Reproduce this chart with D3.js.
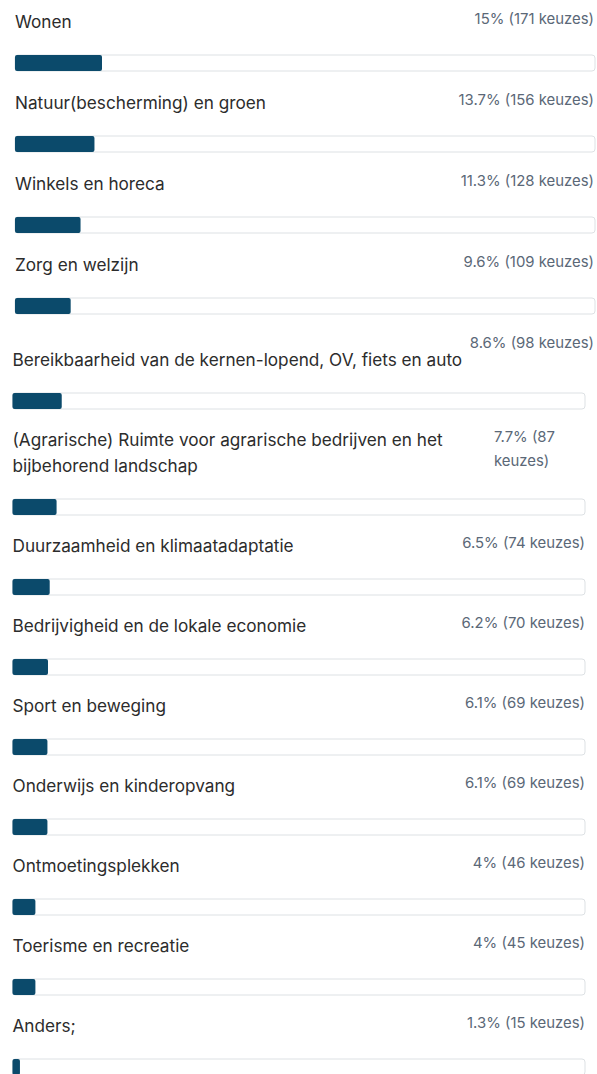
<!DOCTYPE html>
<html>
<head>
<meta charset="utf-8">
<script src="https://cdn.jsdelivr.net/npm/d3@7"></script>
<style>
  html, body { margin: 0; padding: 0; background: #fff; }
  svg { display: block; }
</style>
</head>
<body>
<div id="chart"></div>
<script>
// survey answers, one row per category
var categories = [
  ["Wonen"],
  ["Natuur(bescherming) en groen"],
  ["Winkels en horeca"],
  ["Zorg en welzijn"],
  ["Bereikbaarheid van de kernen-lopend, OV, fiets en auto"],
  ["(Agrarische) Ruimte voor agrarische bedrijven en het", "bijbehorend landschap"],
  ["Duurzaamheid en klimaatadaptatie"],
  ["Bedrijvigheid en de lokale economie"],
  ["Sport en beweging"],
  ["Onderwijs en kinderopvang"],
  ["Ontmoetingsplekken"],
  ["Toerisme en recreatie"],
  ["Anders;"]
];
var percentages = [15, 13.7, 11.3, 9.6, 8.6, 7.7, 6.5, 6.2, 6.1, 6.1, 4, 4, 1.3];
var counts = [171, 156, 128, 109, 98, 87, 74, 70, 69, 69, 46, 45, 15];

(function() {
  var width = 597,
      height = 1074;

  var svg = d3.select("#chart")
    .append("svg")
    .attr("width", width)
    .attr("height", height);

  var lineH = 26, trackH = 16;

  // work out where each row starts (long labels push the next rows down)
  var rows = [], y = 0;
  categories.forEach(function(lines, i) {
    var shift = i === 4 ? 14 : 0; // label sits lower under its percentage
    var rowH = i < 4 ? 81 : 80;
    rows.push({
      lines: lines,
      pct: percentages[i],
      count: counts[i],
      y0: y,
      shift: shift,
      extra: (lines.length - 1) * lineH,
      left: i < 4 ? 15 : 12.5,
      right: i < 4 ? 595 : 585,
      pctRight: i < 5 ? 594 : 585,
      wrapPct: lines.length > 1
    });
    y += rowH + shift + (lines.length - 1) * lineH;
  });

  var x = d3.scaleLinear().domain([0, 100]);

  var g = svg.selectAll(".row")
    .data(rows)
    .enter().append("g")
    .attr("class", "row")
    .attr("transform", function(d) { return "translate(0," + d.y0 + ")"; });

  // label text
  g.append("text")
    .attr("font-family", "Inter, 'Noto Sans', sans-serif")
    .attr("font-size", 17.2)
    .attr("fill", "#2c2c2c")
    .each(function(d) {
      d3.select(this).selectAll("tspan")
        .data(d.lines)
        .enter().append("tspan")
        .attr("x", d.left)
        .attr("y", function(l, j) { return 28 + d.shift + j * lineH; })
        .text(function(l) { return l; });
    });

  // percentage + count
  g.append("text")
    .attr("font-family", "Inter, 'Noto Sans', sans-serif")
    .attr("font-size", 14.9)
    .attr("fill", "#5b6877")
    .each(function(d) {
      var s = d.pct + "% (" + d.count + " keuzes)";
      var t = d3.select(this);
      if (d.wrapPct) {
        var parts = [d.pct + "% (" + d.count, "keuzes)"];
        t.selectAll("tspan")
          .data(parts)
          .enter().append("tspan")
          .attr("x", d.pctRight - 91)
          .attr("y", function(l, j) { return 24 + j * 24; })
          .text(function(l) { return l; });
      } else {
        t.attr("x", d.pctRight)
          .attr("y", 24)
          .attr("text-anchor", "end")
          .text(s);
      }
    });

  // empty track
  g.append("rect")
    .attr("x", function(d) { return d.left; })
    .attr("y", function(d) { return 55 + d.shift + d.extra; })
    .attr("width", function(d) { return d.right - d.left; })
    .attr("height", trackH)
    .attr("rx", 3)
    .attr("fill", "#fff")
    .attr("stroke", "#dde1e4")
    .attr("stroke-width", 1);

  // filled part
  g.append("rect")
    .attr("x", function(d) { return d.left; })
    .attr("y", function(d) { return 55 + d.shift + d.extra; })
    .attr("width", function(d) {
      x.range([0, d.right - d.left]);
      return x(d.pct);
    })
    .attr("height", trackH)
    .attr("rx", 2)
    .attr("fill", "#0b4a6b");
})();
</script>
</body>
</html>
